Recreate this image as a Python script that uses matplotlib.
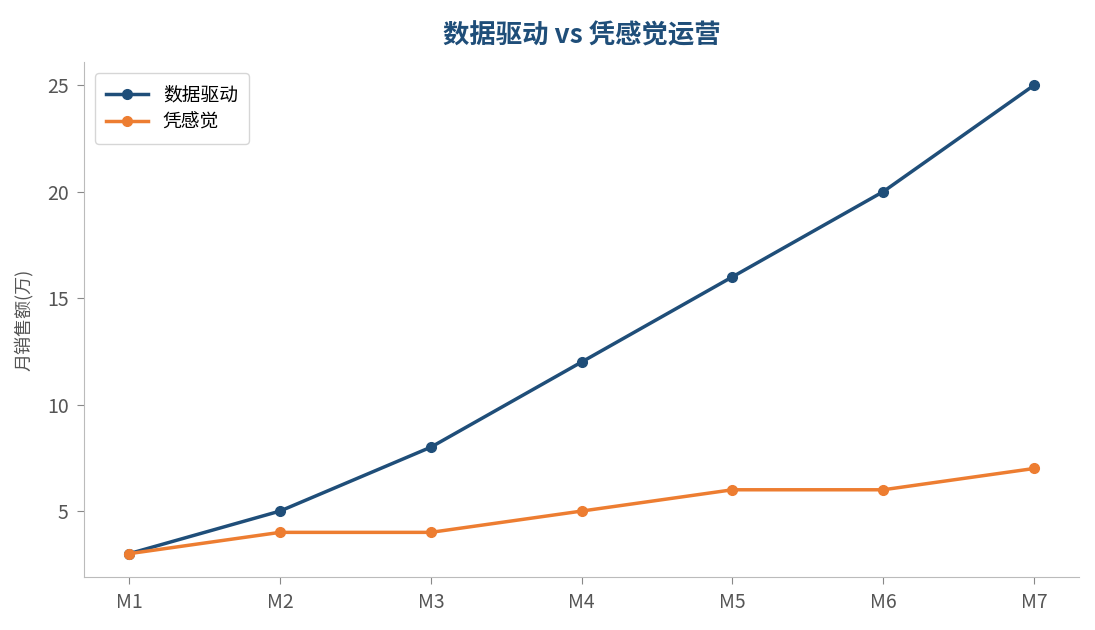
import matplotlib.pyplot as plt

plt.rcParams['font.family'] = ['Noto Sans CJK SC', 'DejaVu Sans']

months = ['M1', 'M2', 'M3', 'M4', 'M5', 'M6', 'M7']
data_driven = [3, 5, 8, 12, 16, 20, 25]
gut_feel = [3, 4, 4, 5, 6, 6, 7]

fig = plt.figure(figsize=(10.95, 6.3), dpi=100)
ax = fig.add_axes([0.0767, 0.084, 0.909, 0.818])

ax.plot(months, data_driven, 'o-', color='#1f4e79', linewidth=2.5, markersize=7, label='数据驱动')
ax.plot(months, gut_feel, 'o-', color='#ed7d31', linewidth=2.5, markersize=7, label='凭感觉')

ax.set_title('数据驱动 vs 凭感觉运营', fontsize=19, fontweight='bold', color='#1f4e79', pad=13)
ax.set_ylabel('月销售额(万)', fontsize=13, color='#555555', labelpad=10)
ax.set_yticks([5, 10, 15, 20, 25])

for s in ['top', 'right']:
    ax.spines[s].set_visible(False)
for s in ['left', 'bottom']:
    ax.spines[s].set_color('#bbbbbb')
ax.tick_params(colors='#555555', labelsize=14, length=5, pad=6)
ax.tick_params(axis='both', color='#888888')

leg = ax.legend(loc='upper left', fontsize=13.5, frameon=True, borderpad=0.6,
                labelspacing=0.35, handlelength=2.2, borderaxespad=0.6)
leg.get_frame().set_edgecolor('#cccccc')

fig.savefig('out.png', dpi=100)
